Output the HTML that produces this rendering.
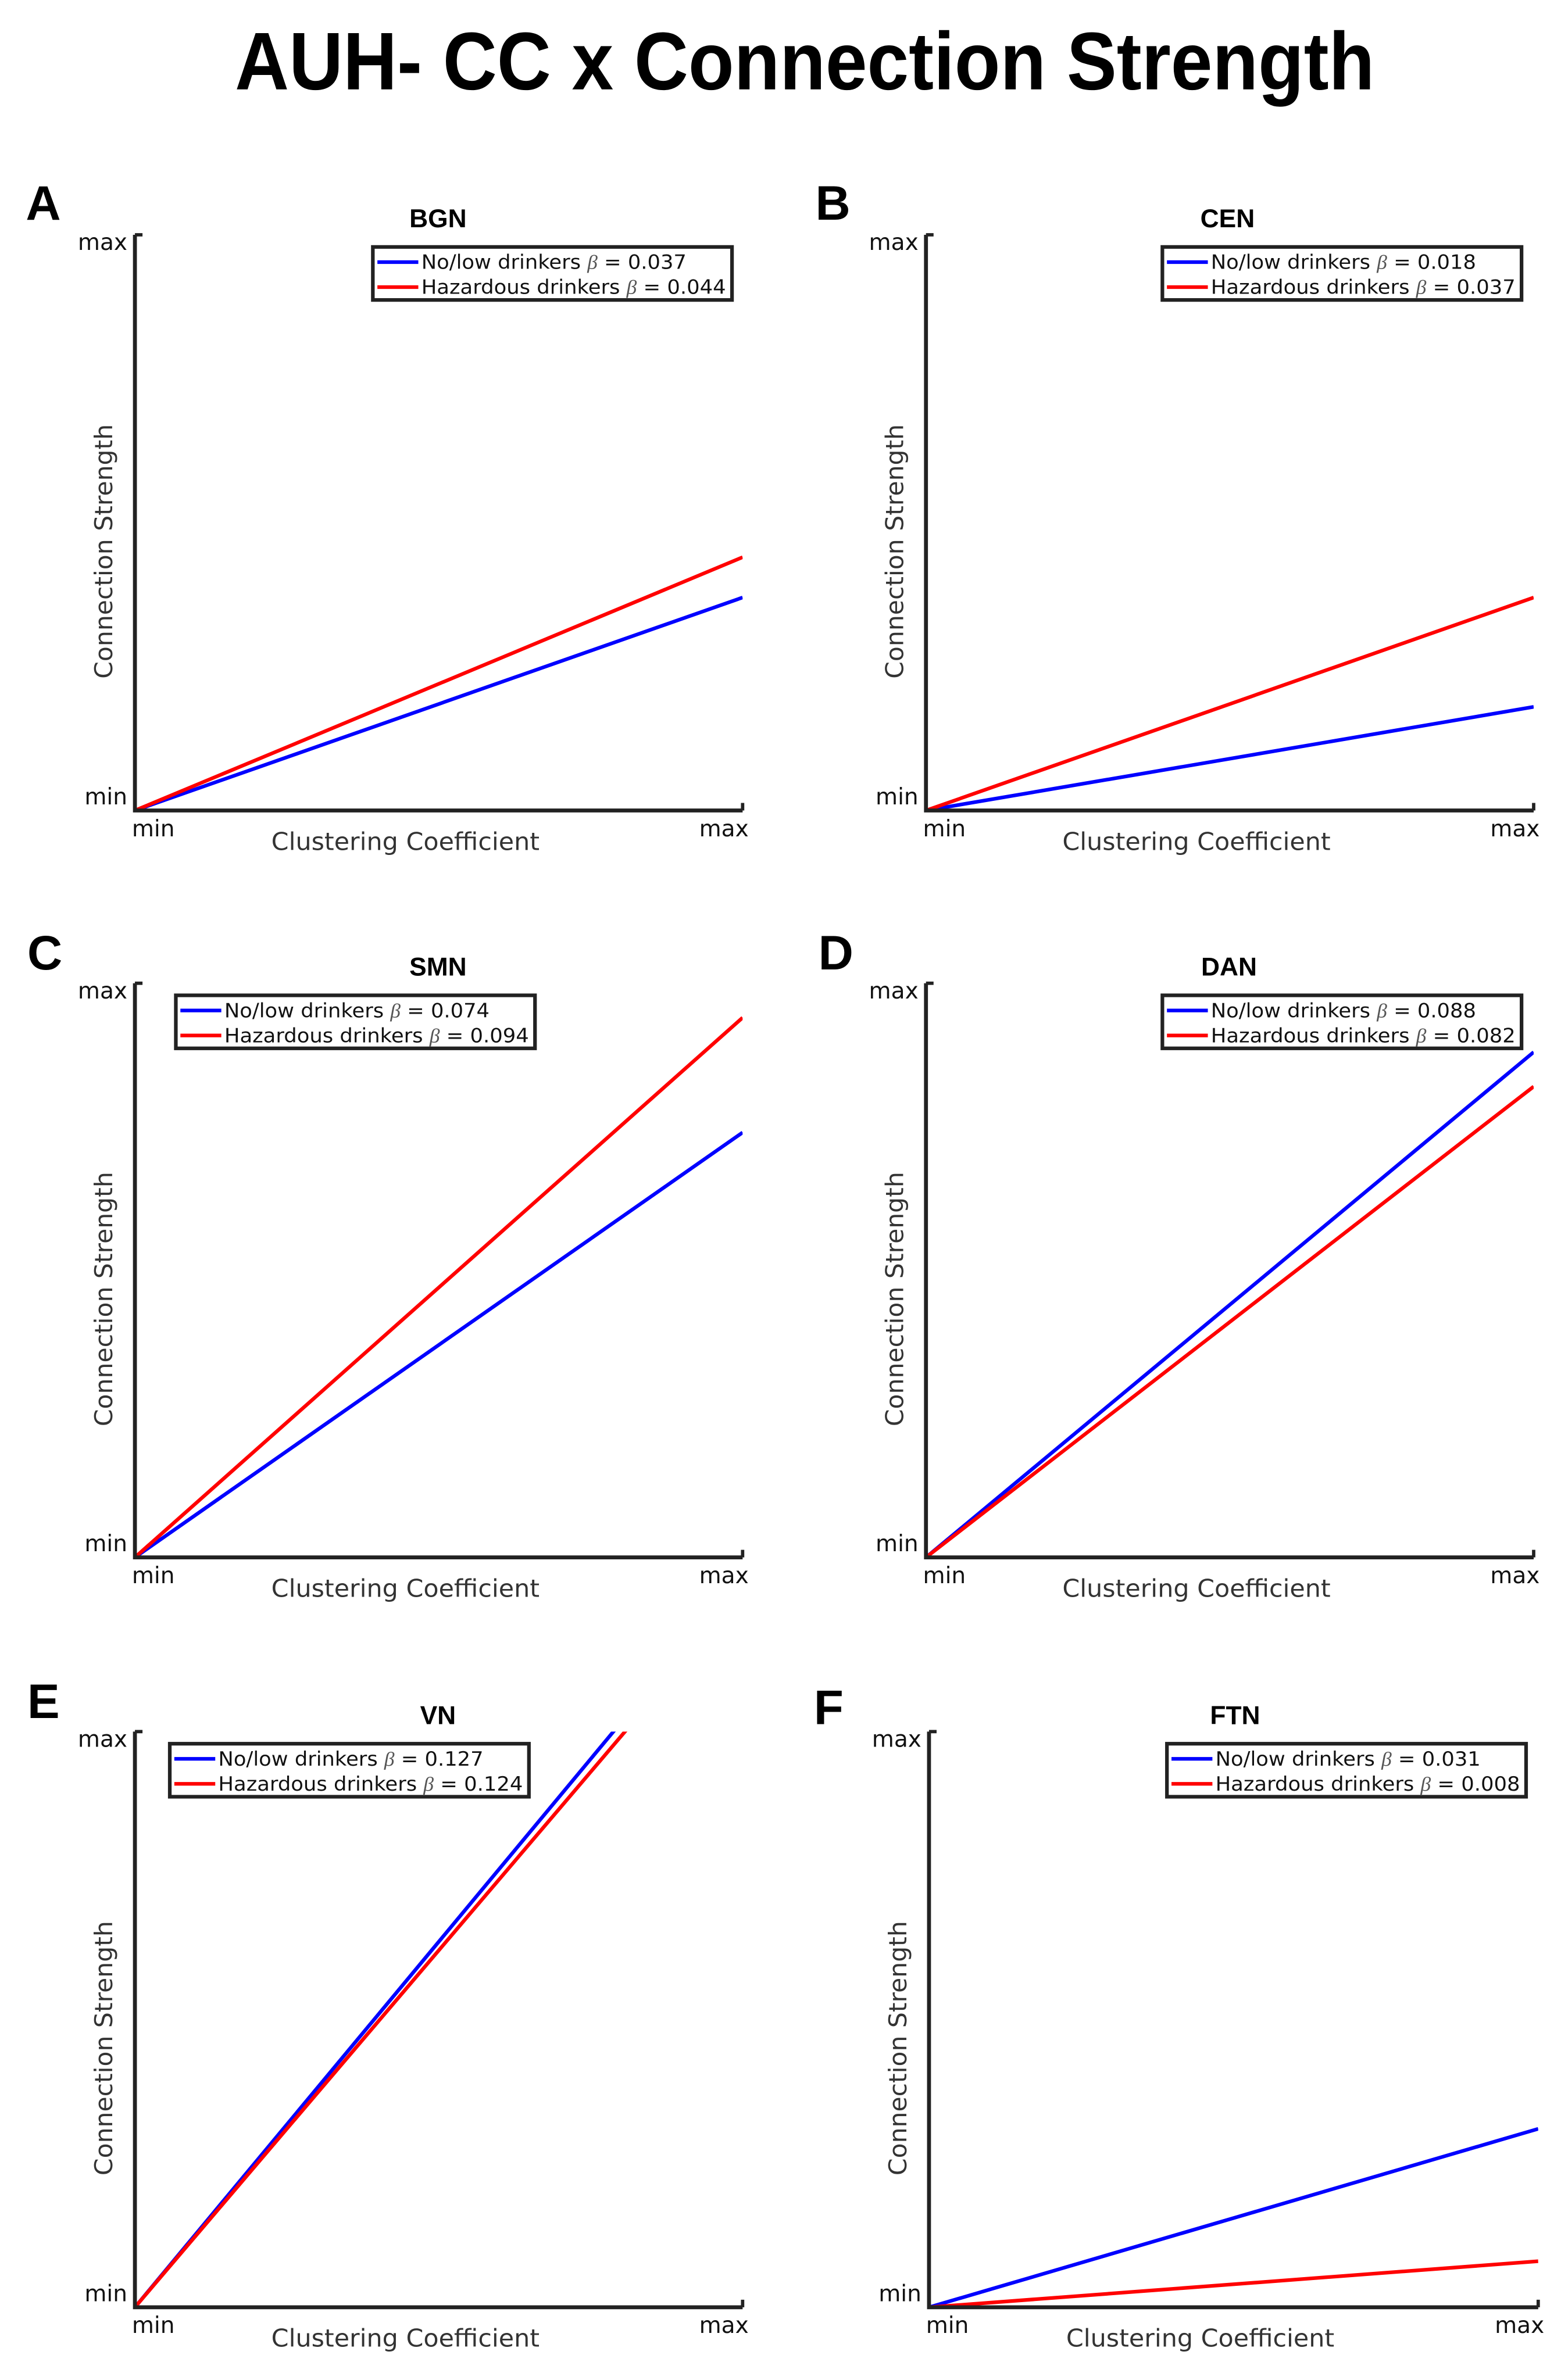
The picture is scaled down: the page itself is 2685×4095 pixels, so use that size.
<!DOCTYPE html>
<html><head><meta charset="utf-8"><style>
html,body{margin:0;padding:0;background:#fff;}
svg{display:block;}
</style></head><body>
<svg id="fig" width="2685" height="4095" viewBox="0 0 1030 1571" xmlns="http://www.w3.org/2000/svg">
<rect width="1030" height="1571" fill="#fff"/>
<text x="531" y="59" text-anchor="middle" font-family="Liberation Sans, sans-serif" font-weight="bold" font-size="54" textLength="752" lengthAdjust="spacingAndGlyphs" fill="#000">AUH- CC x Connection Strength</text>
<g id="panels"></g>
</svg>
<script>
const panelLetters = ["A","B","C","D","E","F"];
const panelTitles = ["BGN","CEN","SMN","DAN","VN","FTN"];
const seriesNames = ["No/low drinkers","Hazardous drinkers"];
const betaNoLow = [0.037, 0.018, 0.074, 0.088, 0.127, 0.031];
const betaHazard = [0.044, 0.037, 0.094, 0.082, 0.124, 0.008];
const yDomain = [0, 0.1];
const xDomain = [0, 1];
const xTickLabels = ["min","max"];
const yTickLabels = ["min","max"];

const NS = "http://www.w3.org/2000/svg";
const layout = [
 {x0:89,x1:490,top:155,bot:535,leg:[246,163],title:289,lx:27,ly:145},
 {x0:611,x1:1012,top:155,bot:535,leg:[767,163],title:810,lx:548,ly:145},
 {x0:89,x1:490,top:649,bot:1028,leg:[116,657],title:289,lx:28,ly:640},
 {x0:611,x1:1012,top:649,bot:1028,leg:[767,657],title:811,lx:550,ly:640},
 {x0:89,x1:490,top:1143,bot:1523,leg:[112,1151],title:289,lx:28,ly:1134},
 {x0:613,x1:1015,top:1143,bot:1523,leg:[770,1151],title:815,lx:547,ly:1138}
];
const root = document.getElementById("panels");
function mk(tag, attrs, parent, text){
  const e = document.createElementNS(NS, tag);
  for (const k in attrs) e.setAttribute(k, attrs[k]);
  if (text !== undefined) e.textContent = text;
  parent.appendChild(e);
  return e;
}
const F = "DejaVu Sans, Liberation Sans, sans-serif";
const FB = "Liberation Sans, sans-serif";
const colors = ["#0000ff","#ff0000"];
panelLetters.forEach((L, i) => {
  const p = layout[i];
  const g = mk("g", {}, root);
  
  
  const sx = v => p.x0 + (v - xDomain[0]) / (xDomain[1] - xDomain[0]) * (p.x1 - p.x0);
  const sy = v => p.bot - (v - yDomain[0]) / (yDomain[1] - yDomain[0]) * (p.bot - p.top);
  const clipId = "clip" + i;
  const cp = mk("clipPath", {id: clipId}, g);
  mk("rect", {x: p.x0, y: p.top, width: p.x1 - p.x0, height: p.bot - p.top}, cp);

  const lt = mk("text", {x: p.lx - 10, y: p.ly, "font-family": FB, "font-weight": "bold", "font-size": 32, fill: "#000"}, g, L);
  
  
  const tt = mk("text", {x: p.title, y: p.top - 5, "text-anchor": "middle", "font-family": FB, "font-weight": "bold", "font-size": 17, fill: "#000"}, g, panelTitles[i]);
  
  

  [betaNoLow, betaHazard].forEach((arr, s) => {
    const ln = mk("line", {x1: sx(0), y1: sy(0), x2: sx(1), y2: sy(arr[i]), stroke: colors[s], "stroke-width": 2.4, "clip-path": "url(#" + clipId + ")"}, g);
    
    
  });
  const ax = mk("path", {d: `M${p.x0} ${p.top} L${p.x0} ${p.bot} L${p.x1} ${p.bot}`, fill: "none", stroke: "#222", "stroke-width": 2.6}, g);
  
  
  const tk = mk("path", {d: `M${p.x0} ${p.top} L${p.x0 + 5} ${p.top} M${p.x1} ${p.bot} L${p.x1} ${p.bot - 5}`, fill: "none", stroke: "#222", "stroke-width": 2.2}, g);
  
  
  const ymin = mk("text", {x: p.x0 - 5, y: p.bot - 4, "text-anchor": "end", "font-family": F, "font-size": 15, fill: "#111"}, g, yTickLabels[0]);
  
  
  const ymax = mk("text", {x: p.x0 - 5, y: p.top + 10, "text-anchor": "end", "font-family": F, "font-size": 15, fill: "#111"}, g, yTickLabels[1]);
  
  
  const xmin = mk("text", {x: p.x0 - 2, y: p.bot + 17, "font-family": F, "font-size": 15, fill: "#111"}, g, xTickLabels[0]);
  
  
  const xmax = mk("text", {x: p.x1 + 4, y: p.bot + 17, "text-anchor": "end", "font-family": F, "font-size": 15, fill: "#111"}, g, xTickLabels[1]);
  
  
  const xl = mk("text", {x: (p.x0 + p.x1) / 2 - 22, y: p.bot + 26, "text-anchor": "middle", "font-family": F, "font-size": 16, textLength: 177, lengthAdjust: "spacingAndGlyphs", fill: "#333"}, g, "Clustering Coefficient");
  
  
  const cy = (p.top + p.bot) / 2 + 19, cx = p.x0 - 15;
  const yl = mk("text", {x: cx, y: cy, transform: `rotate(-90 ${cx} ${cy})`, "text-anchor": "middle", "font-family": F, "font-size": 16, textLength: 168, lengthAdjust: "spacingAndGlyphs", fill: "#333"}, g, "Connection Strength");
  
  
  const [lx, ly] = p.leg;
  const lg = mk("g", {}, g);
  
  
  mk("rect", {x: lx, y: ly, width: 237, height: 35, fill: "#fff", stroke: "#222", "stroke-width": 2.4}, lg);
  [betaNoLow, betaHazard].forEach((arr, s) => {
    const yy = ly + 10 + s * 16.5;
    const e = mk("g", {}, lg);
    
    
    mk("line", {x1: lx + 3, y1: yy, x2: lx + 30, y2: yy, stroke: colors[s], "stroke-width": 2.4}, e);
    const t = mk("text", {x: lx + 32, y: yy + 4.5, "font-family": F, "font-size": 13, textLength: s === 0 ? 175 : 201, lengthAdjust: "spacingAndGlyphs", fill: "#111"}, e);
    mk("tspan", {}, t, seriesNames[s] + " ");
    mk("tspan", {"font-style": "italic", "font-family": "Liberation Serif, serif", fill: "#555"}, t, "β");
    mk("tspan", {}, t, " = " + arr[i].toFixed(3));
  });
});
</script>
</body></html>
